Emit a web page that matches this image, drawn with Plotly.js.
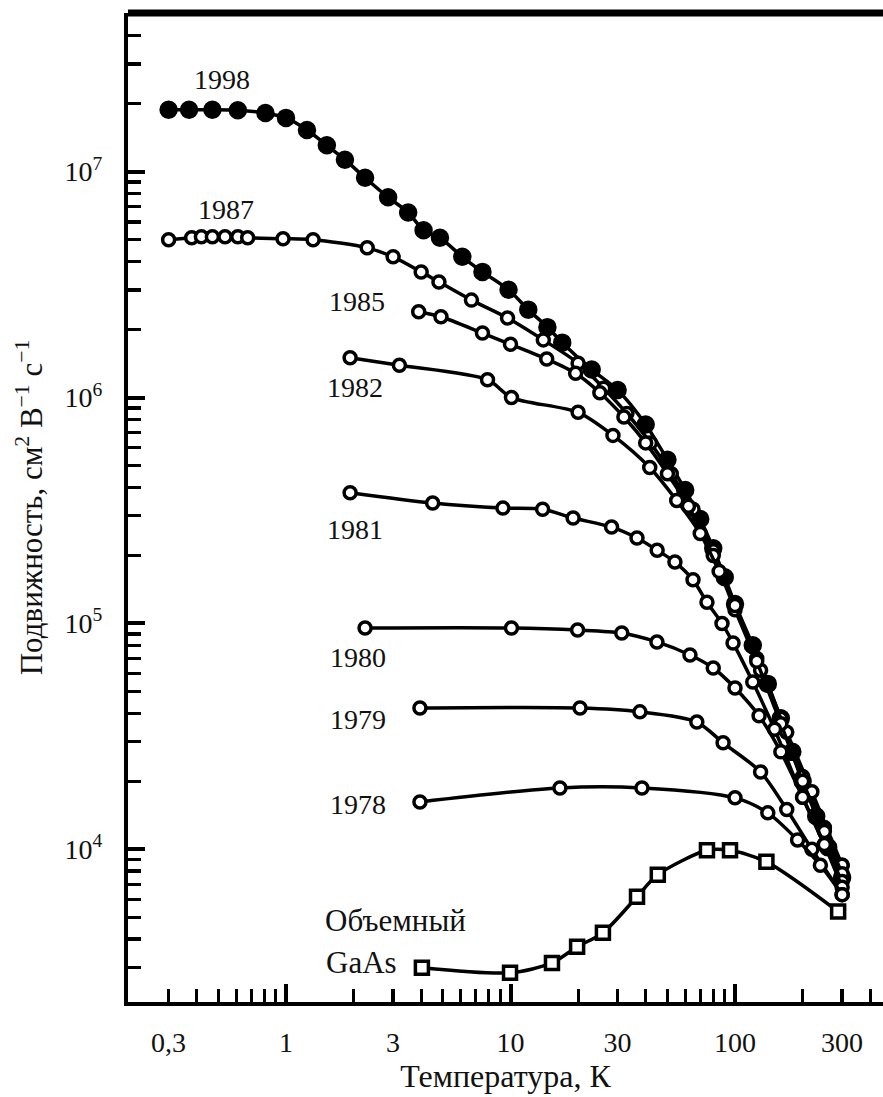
<!DOCTYPE html>
<html>
<head>
<meta charset="utf-8">
<script src="https://cdn.plot.ly/plotly-3.0.1.min.js"></script>
<style>
  html, body { margin: 0; padding: 0; background: #fff; }
  #chart { width: 883px; height: 1097px; }
</style>
</head>
<body>
<div id="chart"></div>
<script>
// Electron mobility of GaAs/AlGaAs heterostructures vs temperature, by year
const seriesNames = ['1998', '1987', '1985', '1982', '1981', '1980', '1979', '1978', 'Объемный GaAs'];

const t1998 = [0.3, 0.37, 0.47, 0.61, 0.81, 1.0, 1.24, 1.52, 1.83, 2.25, 2.85, 3.5, 4.1, 4.85, 6.1, 7.5, 9.8, 12, 14.6, 17, 23, 30, 40, 50, 60, 70, 80, 90, 100, 120, 140, 160, 180, 200, 230, 260, 300];
const mu1998 = [1.88e7, 1.88e7, 1.88e7, 1.87e7, 1.82e7, 1.73e7, 1.53e7, 1.31e7, 1.13e7, 9.4e6, 7.7e6, 6.6e6, 5.5e6, 5.1e6, 4.2e6, 3.6e6, 3.0e6, 2.45e6, 2.05e6, 1.75e6, 1.33e6, 1.08e6, 7.6e5, 5.3e5, 3.9e5, 2.9e5, 2.15e5, 1.6e5, 1.22e5, 8.0e4, 5.4e4, 3.8e4, 2.7e4, 2.0e4, 1.4e4, 1.02e4, 7.5e3];

const t1987 = [0.3, 0.38, 0.42, 0.47, 0.535, 0.61, 0.675, 0.97, 1.32, 2.3, 3.0, 4.0, 4.8, 6.7, 9.7, 14, 20, 26, 33, 42, 52, 65, 80, 100, 125, 160, 200, 250, 300];
const mu1987 = [5.0e6, 5.1e6, 5.15e6, 5.15e6, 5.15e6, 5.15e6, 5.1e6, 5.05e6, 5.0e6, 4.6e6, 4.2e6, 3.6e6, 3.25e6, 2.7e6, 2.25e6, 1.8e6, 1.42e6, 1.1e6, 8.5e5, 6.3e5, 4.6e5, 3.2e5, 2.1e5, 1.2e5, 7.0e4, 3.8e4, 2.1e4, 1.25e4, 8.5e3];

const t1985 = [3.9, 4.9, 7.5, 10, 14.5, 19.5, 25, 32, 40, 50, 62, 80, 100, 130, 170, 220, 300];
const mu1985 = [2.4e6, 2.28e6, 1.93e6, 1.72e6, 1.48e6, 1.28e6, 1.05e6, 8.2e5, 6.3e5, 4.6e5, 3.3e5, 2.0e5, 1.15e5, 6.2e4, 3.3e4, 1.8e4, 8.5e3];

const t1982 = [1.93, 3.2, 7.9, 10.1, 20, 28.6, 41.7, 55, 70, 85, 100, 125, 160, 200, 250, 300];
const mu1982 = [1.5e6, 1.39e6, 1.2e6, 1.0e6, 8.6e5, 6.8e5, 4.9e5, 3.5e5, 2.5e5, 1.7e5, 1.2e5, 6.8e4, 3.6e4, 2.0e4, 1.2e4, 7.8e3];

const t1981 = [1.93, 4.5, 9.25, 13.9, 19, 28.2, 36.6, 45, 54, 65, 75, 87.5, 98, 120, 150, 200, 250, 300];
const mu1981 = [3.79e5, 3.41e5, 3.24e5, 3.2e5, 2.93e5, 2.67e5, 2.39e5, 2.11e5, 1.87e5, 1.56e5, 1.24e5, 1.0e5, 8.2e4, 5.5e4, 3.4e4, 1.7e4, 1.05e4, 7.2e3];

const t1980 = [2.25, 10.1, 19.9, 31.3, 44.9, 63, 80, 100, 128, 160, 200, 250, 300];
const mu1980 = [9.55e4, 9.55e4, 9.35e4, 9.07e4, 8.28e4, 7.25e4, 6.35e4, 5.18e4, 3.9e4, 2.7e4, 1.7e4, 1.05e4, 6.8e3];

const t1979 = [3.95, 20.4, 37.7, 67.6, 88.5, 130, 170, 220, 300];
const mu1979 = [4.22e4, 4.22e4, 4.06e4, 3.66e4, 2.96e4, 2.2e4, 1.5e4, 1.0e4, 6.3e3];

const t1978 = [3.95, 16.6, 38.5, 100, 140, 190, 240, 300];
const mu1978 = [1.62e4, 1.87e4, 1.87e4, 1.69e4, 1.45e4, 1.1e4, 8.5e3, 6.3e3];

const tBulk = [4.03, 9.95, 15.3, 19.8, 25.8, 36.6, 45.3, 75, 95, 138, 288];
const muBulk = [2.99e3, 2.84e3, 3.14e3, 3.7e3, 4.27e3, 6.17e3, 7.72e3, 9.9e3, 9.9e3, 8.8e3, 5.3e3];

const xTickVals = [0.3, 1, 3, 10, 30, 100, 300];
const xTickText = ['0,3', '1', '3', '10', '30', '100', '300'];
const yTickVals = [1e4, 1e5, 1e6, 1e7];
const yTickText = ['10<sup>4</sup>', '10<sup>5</sup>', '10<sup>6</sup>', '10<sup>7</sup>'];

const temps = [t1998, t1987, t1985, t1982, t1981, t1980, t1979, t1978, tBulk];
const mobs = [mu1998, mu1987, mu1985, mu1982, mu1981, mu1980, mu1979, mu1978, muBulk];

// minor ticks: 2..9 of every decade
function minorTicks(lo, hi) {
  const out = [];
  for (let e = lo; e <= hi; e++) {
    for (let m = 2; m <= 9; m++) out.push(m * Math.pow(10, e));
  }
  return out;
}

const INK = '#000';
const SERIF = '"Liberation Serif", "DejaVu Serif", serif';

// filled dots for the newest sample, hollow markers for the rest
const symbols = ['circle', 'circle', 'circle', 'circle', 'circle', 'circle', 'circle', 'circle', 'square'];
const fills = [INK, '#fff', '#fff', '#fff', '#fff', '#fff', '#fff', '#fff', '#fff'];

const traces = temps.map((t, i) => ({
  type: 'scatter',
  mode: 'lines+markers',
  name: seriesNames[i],
  x: t,
  y: mobs[i],
  line: { color: INK, width: 3.5, shape: 'spline', smoothing: 0.8 },
  marker: {
    symbol: symbols[i],
    size: i === 0 ? 15 : (symbols[i] === 'square' ? 13 : 12),
    color: fills[i],
    line: { color: INK, width: 3.5 }
  },
  cliponaxis: true,
  hoverinfo: 'x+y+name'
}));

// empty trace that carries the longer decade ticks on the temperature axis
traces.push({ type: 'scatter', x: [1], y: [1e5], xaxis: 'x2', mode: 'none', showlegend: false, hoverinfo: 'skip' });

const L = Math.log10;
const labelFont = { family: SERIF, size: 28, color: '#111' };
const labels = [
  { text: '1998', x: L(0.52), y: L(2.57e7) },
  { text: '1987', x: L(0.54), y: L(6.77e6) },
  { text: '1985', x: L(2.07), y: L(2.65e6) },
  { text: '1982', x: L(2.03), y: L(1.11e6) },
  { text: '1981', x: L(2.03), y: L(2.6e5) },
  { text: '1980', x: L(2.09), y: L(7.1e4) },
  { text: '1979', x: L(2.09), y: L(3.76e4) },
  { text: '1978', x: L(2.09), y: L(1.58e4) }
].map(a => Object.assign({ xref: 'x', yref: 'y', showarrow: false, font: labelFont,
                           xanchor: 'center', yanchor: 'middle' }, a));
const bulkFont = { family: SERIF, size: 31, color: '#111' };
labels.push({ text: 'Объемный', x: L(1.46), y: L(4.82e3), xref: 'x', yref: 'y', showarrow: false,
              font: bulkFont, xanchor: 'left', yanchor: 'middle' });
labels.push({ text: 'GaAs', x: L(1.48), y: L(3.16e3), xref: 'x', yref: 'y', showarrow: false,
              font: bulkFont, xanchor: 'left', yanchor: 'middle' });

const xRange = [-0.7038, 2.6592];
const yRange = [3.324, 7.7025];

const layout = {
  width: 883,
  height: 1097,
  margin: { l: 128, r: 0, t: 13, b: 95 },
  paper_bgcolor: '#fff',
  plot_bgcolor: '#fff',
  showlegend: false,
  xaxis: {
    type: 'log',
    range: xRange,
    tickmode: 'array',
    tickvals: xTickVals,
    ticktext: xTickText,
    ticks: 'inside',
    ticklen: 13,
    tickwidth: 3.5,
    tickcolor: INK,
    ticklabelstandoff: 12,
    tickfont: { family: SERIF, size: 28, color: '#111' },
    showline: true,
    linewidth: 4,
    linecolor: INK,
    showgrid: false,
    zeroline: false,
    minor: { tickmode: 'array', tickvals: minorTicks(-1, 2).filter(v => v > 0.2 && v < 460 && ![0.3, 3, 30, 300].includes(+v.toPrecision(3))),
             ticks: 'inside', ticklen: 13, tickwidth: 3, tickcolor: INK, showgrid: false },
    title: { text: 'Температура, К', font: { family: SERIF, size: 32, color: '#111' }, standoff: 4 }
  },
  xaxis2: {
    type: 'log',
    range: xRange,
    overlaying: 'x',
    anchor: 'y',
    side: 'bottom',
    tickmode: 'array',
    tickvals: [1, 10, 100],
    ticks: 'inside',
    ticklen: 18,
    tickwidth: 4,
    tickcolor: INK,
    showticklabels: false,
    showline: false,
    showgrid: false,
    zeroline: false
  },
  yaxis: {
    type: 'log',
    range: yRange,
    tickmode: 'array',
    tickvals: yTickVals,
    ticktext: yTickText,
    ticks: 'inside',
    ticklen: 17,
    tickwidth: 4,
    tickcolor: INK,
    ticklabelstandoff: 16,
    tickfont: { family: SERIF, size: 28, color: '#111' },
    showline: true,
    linewidth: 4,
    linecolor: INK,
    showgrid: false,
    zeroline: false,
    minor: { tickmode: 'array', tickvals: minorTicks(3, 7).filter(v => v < 5.1e7),
             ticks: 'inside', ticklen: 13, tickwidth: 3.5, tickcolor: INK, showgrid: false },
    title: { text: 'Подвижность, см<sup>2</sup> В<sup>−1</sup> с<sup>−1</sup>',
             font: { family: SERIF, size: 31, color: '#111' }, standoff: 14 }
  },
  shapes: [
    { type: 'line', xref: 'paper', yref: 'paper', x0: 0, x1: 1, y0: 1, y1: 1,
      line: { color: INK, width: 7 } }
  ],
  annotations: labels
};

Plotly.newPlot('chart', traces, layout, { staticPlot: true, displayModeBar: false });
</script>
</body>
</html>
